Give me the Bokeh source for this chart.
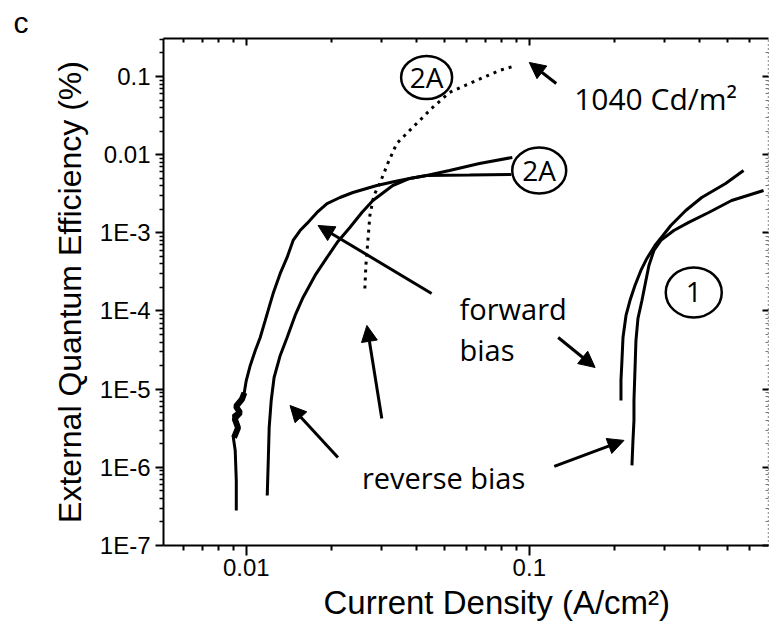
from bokeh.plotting import figure
from bokeh.models import LogAxis, FixedTicker, Label, Arrow, NormalHead, Range1d, Title
from bokeh.embed import file_html
from bokeh.resources import INLINE

# ---------------- data ----------------
# device 2A, forward bias (left-most solid curve)
fwd2A_x = [0.00922, 0.00922, 0.00914, 0.0090, 0.00937, 0.0090, 0.00952, 0.00914, 0.00976, 0.00984,
           0.0100, 0.01033, 0.01076, 0.01120, 0.01167, 0.01215, 0.01245, 0.01318, 0.01394, 0.01464,
           0.01549, 0.01640, 0.01778, 0.01929, 0.02143, 0.02381, 0.02892, 0.03346, 0.03778, 0.04337,
           0.05226, 0.06666, 0.0871]
fwd2A_y = [2.81e-7, 6.79e-7, 1.64e-6, 2.41e-6, 3.43e-6, 4.61e-6, 5.34e-6, 6.18e-6, 8.30e-6, 9.07e-6,
           1.29e-5, 2.01e-5, 3.12e-5, 4.58e-5, 7.57e-5, 1.25e-4, 1.68e-4, 3.02e-4, 4.84e-4, 7.99e-4,
           1.07e-3, 1.32e-3, 1.82e-3, 2.37e-3, 2.83e-3, 3.28e-3, 4.03e-3, 4.54e-3, 4.96e-3, 5.42e-3,
           6.28e-3, 7.72e-3, 9.20e-3]
# noisy low-current part of the same curve
noise2A_x = [0.00905, 0.00935, 0.00910, 0.00950, 0.00920, 0.00965, 0.00985]
noise2A_y = [2.4e-6, 3.2e-6, 4.2e-6, 5.0e-6, 6.0e-6, 7.4e-6, 9.0e-6]

# device 2A, reverse bias (second solid curve)
rev2A_x = [0.01186, 0.01196, 0.01205, 0.01225, 0.01254, 0.01318, 0.01394, 0.01488, 0.01587, 0.01750,
           0.01929, 0.02108, 0.02323, 0.02562, 0.02801, 0.03293, 0.03778, 0.04337, 0.06148, 0.0864]
rev2A_y = [4.36e-7, 1.22e-6, 3.24e-6, 7.16e-6, 1.41e-5, 2.70e-5, 4.58e-5, 8.77e-5, 1.49e-4, 2.85e-4,
           4.84e-4, 7.75e-4, 1.17e-3, 1.82e-3, 2.59e-3, 4.03e-3, 4.96e-3, 5.42e-3, 5.49e-3, 5.57e-3]

# device 2A, dotted curve (up to 1040 Cd/m2)
lum2A_x = [0.02624, 0.02646, 0.02690, 0.02734, 0.02824, 0.02964, 0.03162, 0.03401, 0.03873, 0.04554,
           0.05226, 0.06507, 0.07841, 0.0900]
lum2A_y = [1.94e-4, 3.82e-4, 7.99e-4, 1.67e-3, 3.01e-3, 4.28e-3, 7.72e-3, 0.0139, 0.0223, 0.0401,
           0.0624, 0.0889, 0.1193, 0.1383]

# device 1, forward bias
fwd1_x = [0.2108, 0.2108, 0.2125, 0.2143, 0.2196, 0.2268, 0.2362, 0.2479, 0.2603, 0.2779,
          0.2966, 0.3162, 0.3571, 0.4066, 0.4939, 0.5715]
fwd1_y = [7.16e-6, 1.29e-5, 2.33e-5, 4.58e-5, 8.77e-5, 1.36e-4, 2.12e-4, 3.30e-4, 4.70e-4, 6.89e-4,
          9.25e-4, 1.24e-3, 1.93e-3, 2.83e-3, 4.28e-3, 6.28e-3]

# device 1, reverse bias
rev1_x = [0.2305, 0.2324, 0.2343, 0.2343, 0.2362, 0.2381, 0.2420, 0.2500, 0.2561, 0.2646,
          0.2756, 0.2917, 0.3240, 0.3658, 0.4304, 0.5185, 0.6724]
rev1_y = [1.06e-6, 2.20e-6, 3.98e-6, 7.16e-6, 1.73e-5, 4.19e-5, 8.01e-5, 1.36e-4, 2.12e-4, 3.82e-4,
          5.94e-4, 7.99e-4, 1.07e-3, 1.36e-3, 1.82e-3, 2.59e-3, 3.48e-3]

x_ticks = [0.01, 0.1]
x_tick_labels = ["0.01", "0.1"]
y_ticks = [1e-7, 1e-6, 1e-5, 1e-4, 1e-3, 0.01, 0.1]
y_tick_labels = ["1E-7", "1E-6", "1E-5", "1E-4", "1E-3", "0.01", "0.1"]

x_label = "Current Density (A/cm\u00b2)"
y_label = "External Quantum Efficiency (%)"
panel_letter = "c"

# ---------------- figure ----------------
x_minor = [m * d for d in (0.001, 0.01, 0.1) for m in range(2, 10)]
y_minor = [m * d for d in (1e-7, 1e-6, 1e-5, 1e-4, 1e-3, 1e-2, 1e-1) for m in range(2, 10)]
xticker = FixedTicker(ticks=x_ticks, minor_ticks=x_minor)
yticker = FixedTicker(ticks=y_ticks, minor_ticks=y_minor)

p = figure(width=769, height=628, x_axis_type="log", y_axis_type="log",
           x_range=Range1d(0.0051, 0.70), y_range=Range1d(1e-7, 0.306),
           output_backend="svg", toolbar_location=None,
           min_border_left=163, min_border_right=1, min_border_top=38, min_border_bottom=83)
p.grid.visible = False
p.outline_line_color = None
p.background_fill_color = "white"
p.border_fill_color = "white"

AX_FONT = "Liberation Sans"

xa = p.xaxis[0]
xa.ticker = xticker
xa.major_label_overrides = {t: s for t, s in zip(x_ticks, x_tick_labels)}
xa.major_label_text_font = AX_FONT
xa.major_label_text_font_size = "24px"
xa.major_label_text_color = "black"
xa.major_label_standoff = 3
xa.major_tick_out = 10
xa.major_tick_in = 0
xa.minor_tick_out = 5
xa.minor_tick_in = 0
xa.axis_line_width = 2
xa.major_tick_line_width = 2
xa.minor_tick_line_width = 2

ya = p.yaxis[0]
ya.ticker = yticker
ya.major_label_overrides = {t: s for t, s in zip(y_ticks, y_tick_labels)}
ya.major_label_text_font = AX_FONT
ya.major_label_text_font_size = "24px"
ya.major_label_text_color = "black"
ya.major_label_standoff = 5
ya.major_tick_out = 8
ya.major_tick_in = 0
ya.minor_tick_out = 4
ya.minor_tick_in = 0
ya.axis_line_width = 2
ya.major_tick_line_width = 2
ya.minor_tick_line_width = 1.5
ya.axis_label = y_label
ya.axis_label_text_font = AX_FONT
ya.axis_label_text_font_size = "32px"
ya.axis_label_text_font_style = "normal"
ya.axis_label_text_color = "black"
ya.axis_label_standoff = 9

top = LogAxis(ticker=xticker, major_label_text_font_size="0px", major_label_standoff=0,
              major_tick_in=7, major_tick_out=0, minor_tick_in=4, minor_tick_out=0,
              axis_line_width=2, major_tick_line_width=2, minor_tick_line_width=2)
top.major_label_overrides = {t: "" for t in x_ticks}
p.add_layout(top, "above")

right = LogAxis(ticker=yticker, major_label_text_font_size="0px", major_label_standoff=0,
                major_tick_in=6, major_tick_out=0, minor_tick_in=3, minor_tick_out=0,
                axis_line_width=1.5, axis_line_dash="1 3", axis_line_color="#444444",
                major_tick_line_width=2, minor_tick_line_width=1, minor_tick_line_color="#777777")
right.major_label_overrides = {t: "" for t in y_ticks}
p.add_layout(right, "right")

# x axis title (placed to the right as in the reference) and panel letter
p.add_layout(Title(text=x_label, align="left", offset=160, text_font=AX_FONT,
                   text_font_size="33px", text_font_style="normal", text_color="black",
                   standoff=7), "below")
p.add_layout(Title(text=panel_letter, align="left", offset=-150, text_font=AX_FONT,
                   text_font_size="30px", text_font_style="normal", text_color="black",
                   standoff=0), "above")

# ---------------- curves ----------------
p.line(fwd2A_x, fwd2A_y, line_color="black", line_width=3)
p.line(noise2A_x, noise2A_y, line_color="black", line_width=6)
p.line(rev2A_x, rev2A_y, line_color="black", line_width=3)
p.line(lum2A_x, lum2A_y, line_color="black", line_width=3, line_dash="3 5")
p.line(fwd1_x, fwd1_y, line_color="black", line_width=3)
p.line(rev1_x, rev1_y, line_color="black", line_width=3)

# ---------------- annotations ----------------
ANN_FONT = "Open Sans"
def lab(x, y, t, size="29px", align="left", base="alphabetic", font=ANN_FONT):
    p.add_layout(Label(x=x, y=y, text=t, text_font=font, text_font_size=size,
                       text_align=align, text_baseline=base, text_color="black"))

lab(0.1440, 0.0523, "1040 Cd/m\u00b2", size="30px")
lab(0.05669, 1.076e-4, "forward")
lab(0.05669, 3.218e-5, "bias")
lab(0.02562, 7.41e-7, "reverse bias")

# circled labels
circ_x = [0.04337, 0.1084, 0.3811]
circ_y = [0.0971, 6.27e-3, 1.726e-4]
circ_w = [51, 54, 56]
circ_h = [43, 46, 50]
circ_t = ["2A", "2A", "1"]
p.ellipse(circ_x, circ_y, width=circ_w, height=circ_h, width_units="screen", height_units="screen",
          fill_color=None, line_color="black", line_width=2.5)
for cx, cy, ct in zip(circ_x, circ_y, circ_t):
    lab(cx, cy, ct, size="28px", align="center", base="middle")

arrows = [
    ((0.1245, 0.0813), (0.1, 0.1510)),
    ((0.04517, 1.675e-4), (0.01793, 1.242e-3)),
    ((0.1265, 4.58e-5), (0.1708, 1.894e-5)),
    ((0.03012, 4.22e-6), (0.02668, 6.53e-5)),
    ((0.02108, 1.336e-6), (0.01428, 6.18e-6)),
    ((0.1225, 1.026e-6), (0.2160, 2.21e-6)),
]
for (x0, y0), (x1, y1) in arrows:
    p.add_layout(Arrow(x_start=x0, y_start=y0, x_end=x1, y_end=y1, line_width=3, line_color="black",
                       end=NormalHead(size=16, fill_color="black", line_color="black", line_width=1)))

open("out.html", "w").write(file_html(p, INLINE))
